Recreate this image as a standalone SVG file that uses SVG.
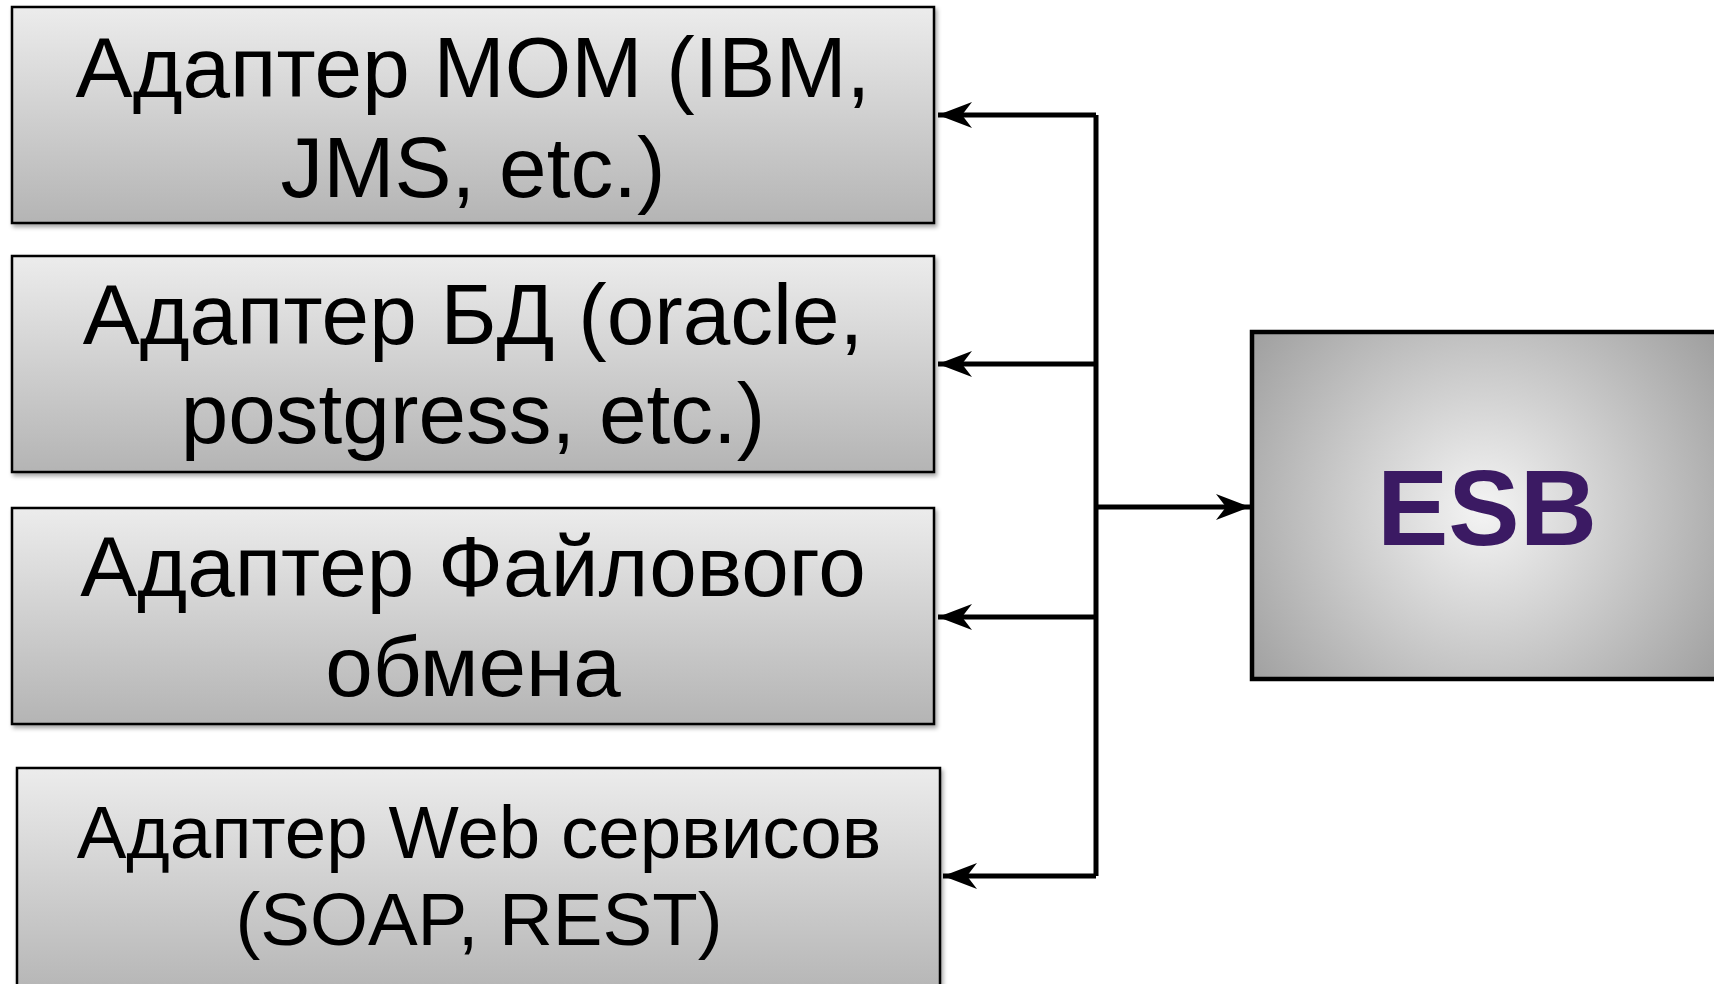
<svg xmlns="http://www.w3.org/2000/svg" width="1714" height="984" viewBox="0 0 1714 984">
<style>
.box{stroke:#000;stroke-width:2.5;fill:url(#boxg);filter:url(#sh)}
.t{font-family:"Liberation Sans",Arial,sans-serif;font-size:85.5px;fill:#000;text-anchor:middle}
.t4{font-size:74.5px}
.con{stroke:#000;stroke-width:5;fill:none}
.esbt{font-family:"Liberation Sans",Arial,sans-serif;font-weight:bold;font-size:107px;fill:#3b1a63;text-anchor:middle}
</style>
<defs>
<linearGradient id="boxg" x1="0" y1="0" x2="0" y2="1">
<stop offset="0" stop-color="#ececec"/>
<stop offset="1" stop-color="#b4b4b4"/>
</linearGradient>
<radialGradient id="esbg" cx="1483" cy="510" r="300" gradientUnits="userSpaceOnUse">
<stop offset="0" stop-color="#f4f4f4"/>
<stop offset="1" stop-color="#9c9c9c"/>
</radialGradient>
<filter id="sh" x="-5%" y="-5%" width="110%" height="115%">
<feDropShadow dx="2" dy="3" stdDeviation="2" flood-color="#000" flood-opacity="0.35"/>
</filter>
<marker id="ah" markerUnits="userSpaceOnUse" viewBox="-36 -16 40 32" refX="0" refY="0" markerWidth="40" markerHeight="32" orient="auto">
<path d="M0,0 L-34,-13 L-24,0 L-34,13 Z" fill="#000"/>
</marker>
</defs>
<rect width="1714" height="984" fill="#fff"/>
<g id="connectors">
<path class="con" d="M1096,115 L1096,876"/>
<path class="con" d="M1096,115 L938,115" marker-end="url(#ah)"/>
<path class="con" d="M1096,364 L938,364" marker-end="url(#ah)"/>
<path class="con" d="M1096,617 L938,617" marker-end="url(#ah)"/>
<path class="con" d="M1096,876 L943,876" marker-end="url(#ah)"/>
<path class="con" d="M1096,507 L1250,507" marker-end="url(#ah)"/>
</g>
<g id="node-mom">
<rect class="box" x="12" y="7" width="922" height="216"/>
<text class="t" x="473" y="97">Адаптер МОМ (IBM,</text>
<text class="t" x="473" y="197">JMS, etc.)</text>
</g>
<g id="node-db">
<rect class="box" x="12" y="256" width="922" height="216"/>
<text class="t" x="473" y="344">Адаптер БД (oracle,</text>
<text class="t" x="473" y="443">postgress, etc.)</text>
</g>
<g id="node-file">
<rect class="box" x="12" y="508" width="922" height="216"/>
<text class="t" x="473" y="596">Адаптер Файлового</text>
<text class="t" x="473" y="696">обмена</text>
</g>
<g id="node-web">
<rect class="box" x="17" y="768" width="923" height="230"/>
<text class="t t4" x="479" y="858">Адаптер Web сервисов</text>
<text class="t t4" x="479" y="945">(SOAP, REST)</text>
</g>
<g id="node-esb">
<rect x="1252" y="332" width="470" height="347" fill="url(#esbg)" stroke="#000" stroke-width="4.5"/>
<text class="esbt" x="1487" y="545">ESB</text>
</g>
</svg>
